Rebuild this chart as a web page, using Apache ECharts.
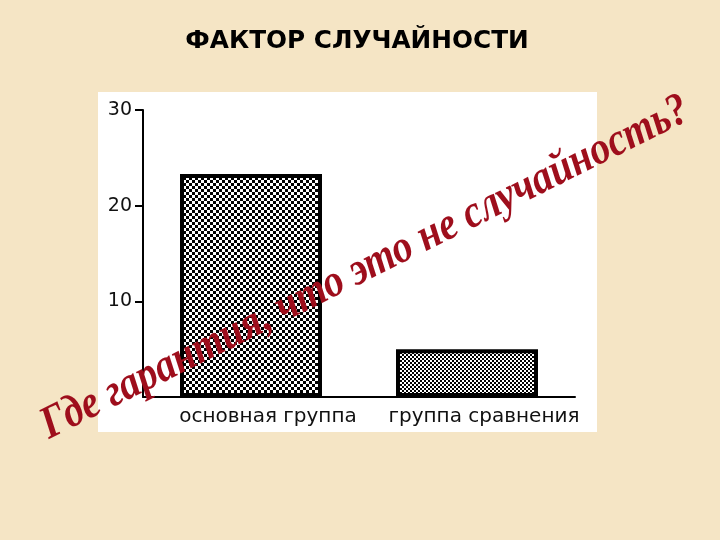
<!DOCTYPE html>
<html>
<head>
<meta charset="utf-8">
<script src="https://cdn.jsdelivr.net/npm/echarts@6/dist/echarts.min.js"></script>
<style>
  html, body { margin: 0; padding: 0; background: #F5E5C5; }
  #chart { width: 720px; height: 540px; }
</style>
</head>
<body>
<div id="chart"></div>
<script>
// data
const categories = ['основная группа', 'группа сравнения'];
const values = [23.3, 5];
const yTicks = [10, 20, 30];

const titleText = 'ФАКТОР СЛУЧАЙНОСТИ';
const slogan = 'Где гарантия, что это не случайность?';

// checkerboard fill like the old stat-package hatching
function checker(cell) {
  const c = document.createElement('canvas');
  c.width = cell * 2;
  c.height = cell * 2;
  const ctx = c.getContext('2d');
  ctx.fillStyle = '#fff';
  ctx.fillRect(0, 0, c.width, c.height);
  ctx.fillStyle = '#000';
  ctx.fillRect(0, 0, cell, cell);
  ctx.fillRect(cell, cell, cell, cell);
  return { image: c, repeat: 'repeat' };
}
const fills = [checker(3), checker(2)];

const labelFont = '"DejaVu Sans", "Liberation Sans", Arial';

const chart = echarts.init(document.getElementById('chart'));

chart.setOption({
  backgroundColor: '#F5E5C5',
  animation: false,
  grid: { left: 143, right: 145, top: 110, bottom: 143 },
  xAxis: {
    type: 'category',
    data: categories,
    axisLine: { lineStyle: { color: '#000', width: 2 } },
    axisTick: { alignWithLabel: true, length: 7, lineStyle: { color: '#000', width: 2 } },
    axisLabel: {
      interval: 0, color: '#111', fontSize: 20, fontFamily: labelFont, margin: 10,
      padding: [0, 0, 0, 34]
    }
  },
  yAxis: {
    type: 'value',
    min: 0,
    max: 30,
    interval: 10,
    splitLine: { show: false },
    axisLine: { show: true, lineStyle: { color: '#000', width: 2 } },
    axisTick: { show: true, length: 8, customValues: yTicks, lineStyle: { color: '#000', width: 2 } },
    axisLabel: {
      color: '#111', fontSize: 19, fontFamily: labelFont, margin: 11,
      customValues: yTicks
    }
  },
  series: [{
    type: 'bar',
    barWidth: 142,
    data: values.map((v, i) => ({
      value: v,
      itemStyle: { color: fills[i], borderColor: '#000', borderWidth: 4 }
    }))
  }],
  graphic: [
    {
      type: 'rect',
      z: -10,
      shape: { x: 98, y: 92, width: 499, height: 340 },
      style: { fill: '#fff' }
    },
    {
      type: 'text',
      x: 357,
      y: 42,
      scaleX: 1.03,
      style: {
        text: titleText,
        textAlign: 'center',
        textVerticalAlign: 'middle',
        font: 'bold 24px "DejaVu Sans", "Liberation Sans", Arial',
        fill: '#000'
      }
    },
    {
      type: 'text',
      z: 100,
      x: 54,
      y: 449,
      scaleX: 0.87,
      rotation: 26.5 * Math.PI / 180,
      style: {
        text: slogan,
        x: 0,
        y: 0,
        textAlign: 'left',
        textVerticalAlign: 'bottom',
        font: 'italic bold 46px "Liberation Serif", "Times New Roman", serif',
        fill: '#9E0E1C'
      }
    }
  ]
});
</script>
</body>
</html>
